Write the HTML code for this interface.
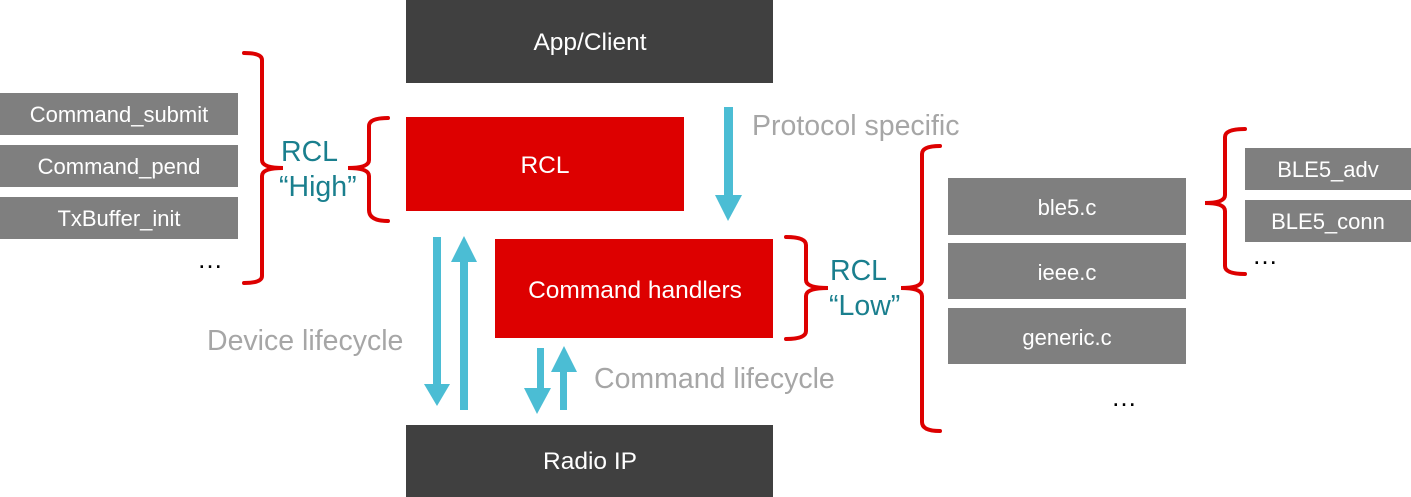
<!DOCTYPE html>
<html><head><style>body{margin:0;background:#fff}svg{display:block}</style></head>
<body>
<svg width="1411" height="497" xmlns="http://www.w3.org/2000/svg" font-family="Liberation Sans, sans-serif">
<rect x="406" y="0" width="367" height="83" fill="#404040"/>
<text x="590" y="50" fill="#fff" font-size="24.5" text-anchor="middle">App/Client</text>
<rect x="406" y="117" width="278" height="94" fill="#dd0000"/>
<text x="545" y="173" fill="#fff" font-size="24.5" text-anchor="middle">RCL</text>
<rect x="495" y="239" width="278" height="99" fill="#dd0000"/>
<text x="635" y="298" fill="#fff" font-size="24.5" text-anchor="middle">Command handlers</text>
<rect x="406" y="425" width="367" height="72" fill="#404040"/>
<text x="590" y="469" fill="#fff" font-size="24.5" text-anchor="middle">Radio IP</text>
<g fill="#7f7f7f">
<rect x="0" y="93" width="238" height="42"/><rect x="0" y="145" width="238" height="42"/><rect x="0" y="197" width="238" height="42"/>
<rect x="948" y="178" width="238" height="57"/><rect x="948" y="243" width="238" height="56"/><rect x="948" y="308" width="238" height="56"/>
<rect x="1245" y="148" width="166" height="42"/><rect x="1245" y="200" width="166" height="42"/>
</g>
<g fill="#fff" font-size="22" text-anchor="middle">
<text x="119" y="122">Command_submit</text><text x="119" y="174">Command_pend</text><text x="119" y="226">TxBuffer_init</text>
<text x="1067" y="215">ble5.c</text><text x="1067" y="280">ieee.c</text><text x="1067" y="345">generic.c</text>
<text x="1328" y="177">BLE5_adv</text><text x="1328" y="229">BLE5_conn</text>
</g>
<g fill="#000" font-size="26" letter-spacing="2"><text x="197" y="268">…</text><text x="1111" y="406">…</text><text x="1252" y="264">…</text></g>
<g fill="none" stroke="#dd0000" stroke-width="4" stroke-linecap="round">
<path d="M244 53 Q262 53 262 60 L262 160 Q262 168 283 168 Q262 168 262 176 L262 276 Q262 283 244 283"/>
<path d="M388 118 Q369 118 369 126 L369 160 Q369 168 348 168 Q369 168 369 176 L369 210 Q369 221 388 221"/>
<path d="M786 237 Q806 237 806 245 L806 280 Q806 288 828 288 Q806 288 806 296 L806 331 Q806 339 786 339"/>
<path d="M940 146 Q922 146 922 154 L922 280 Q922 288 901 288 Q922 288 922 296 L922 422 Q922 431 940 431"/>
<path d="M1245 129 Q1225 129 1225 137 L1225 195 Q1225 203 1205 203 Q1225 203 1225 211 L1225 266 Q1225 274 1245 274"/>
</g>
<g fill="#1a7f8e" font-size="28.5"><text x="281" y="161">RCL</text><text x="279" y="196">“High”</text>
<text x="830" y="280">RCL</text><text x="829" y="315">“Low”</text></g>
<g fill="#4bbdd4">
<rect x="433" y="237" width="8" height="150"/><polygon points="424,384 450,384 437,406"/>
<rect x="460" y="258" width="8" height="152"/><polygon points="451,262 477,262 464,236"/>
<rect x="537" y="348" width="7" height="44"/><polygon points="524,388 551,388 537,414"/>
<rect x="560" y="368" width="7" height="42"/><polygon points="551,372 577,372 564,346"/>
<rect x="724" y="107" width="9" height="92"/><polygon points="715,195 742,195 728,221"/>
</g>
<g fill="#a6a6a6" font-size="28.5"><text x="752" y="135">Protocol specific</text><text x="207" y="350">Device lifecycle</text><text x="594" y="388">Command lifecycle</text></g>
</svg>
</body></html>
